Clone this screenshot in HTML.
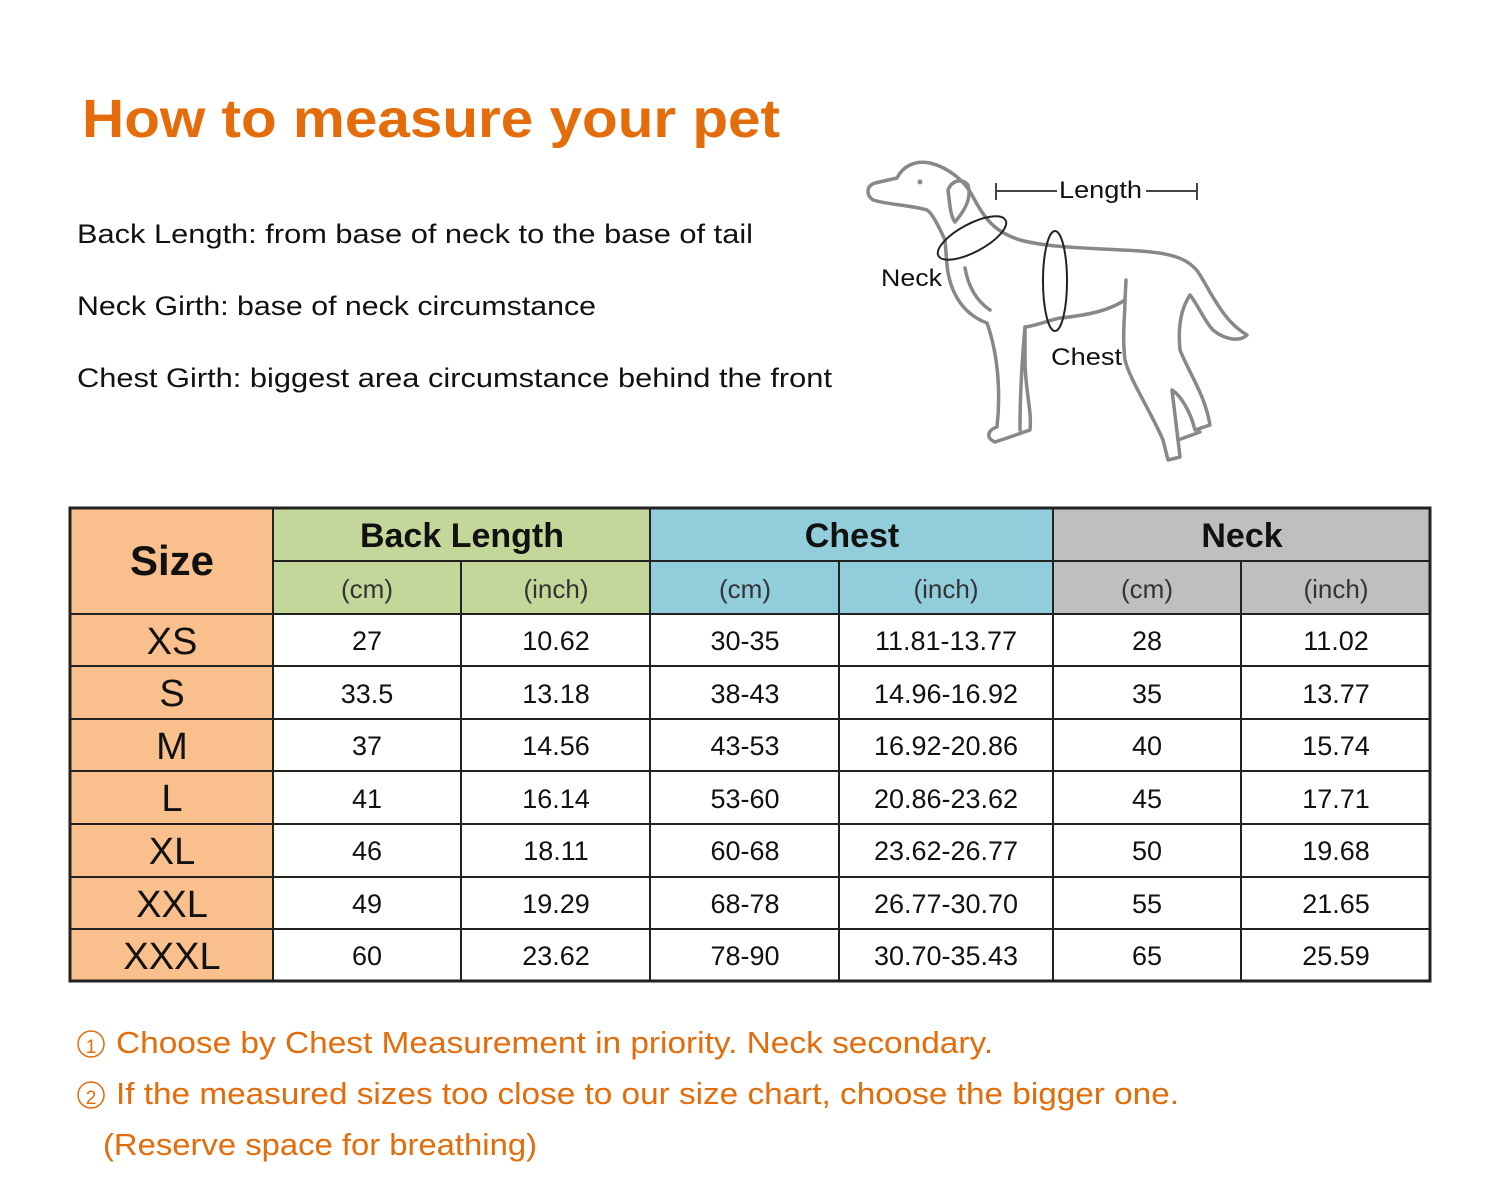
<!DOCTYPE html>
<html><head><meta charset="utf-8"><style>
body{margin:0;background:#fff;}
svg{display:block;}
text{font-family:"Liberation Sans",sans-serif;}
</style></head><body>
<svg width="1500" height="1200" viewBox="0 0 1500 1200" xmlns="http://www.w3.org/2000/svg">
<rect width="1500" height="1200" fill="#fff"/>
<text x="82" y="137" font-size="54" font-weight="bold" fill="#e46c0a" textLength="698" lengthAdjust="spacingAndGlyphs">How to measure your pet</text>
<g font-size="27" fill="#111">
<text x="77" y="243" textLength="676" lengthAdjust="spacingAndGlyphs">Back Length: from base of neck to the base of tail</text>
<text x="77" y="315" textLength="519" lengthAdjust="spacingAndGlyphs">Neck Girth: base of neck circumstance</text>
<text x="77" y="387" textLength="755" lengthAdjust="spacingAndGlyphs">Chest Girth: biggest area circumstance behind the front</text>
</g>
<!-- dog -->
<g fill="none" stroke="#888" stroke-width="3.5" stroke-linejoin="round" stroke-linecap="round">
<path d="M873 200 C866 195 866 186 875 183 L897 178 C903 166 915 160 930 163 C950 168 965 182 972 195 C985 220 995 232 1020 240 C1050 248 1090 248 1140 251 C1170 253 1190 258 1200 275 C1215 300 1225 322 1247 335 C1240 342 1225 340 1213 330 C1205 322 1198 305 1190 295 C1180 310 1178 330 1180 350 C1190 375 1205 395 1210 425 L1195 430 C1190 410 1180 395 1172 390 L1178 440 L1180 457 L1168 460 L1163 440 C1150 410 1130 380 1125 360 C1122 335 1125 315 1125 300 C1110 310 1090 315 1060 318 C1050 320 1035 326 1025 327 L1025 360 C1025 390 1032 410 1030 430 L1010 437 L995 442 C985 438 988 430 997 427 C1000 400 1000 360 987 323 C965 315 950 295 947 265 L945 240 C938 225 932 213 927 210 C910 205 890 205 873 200 Z"/>
<path d="M948 190 C950 205 950 215 955 222 C965 210 972 198 968 185 C962 178 952 180 948 190 Z"/>
<path d="M965 268 C968 285 975 300 990 310"/>
<path d="M1025 327 C1022 360 1020 400 1020 430"/>
<path d="M1125 300 L1126 280"/>
<path d="M1178 440 L1200 432"/>
</g>
<circle cx="920" cy="182" r="2.5" fill="#888"/>
<ellipse cx="972" cy="238" rx="38" ry="14" transform="rotate(-28 972 238)" fill="none" stroke="#222" stroke-width="2"/>
<ellipse cx="1055" cy="281" rx="12" ry="50" fill="none" stroke="#222" stroke-width="2"/>
<g stroke="#444" stroke-width="2">
<line x1="996" y1="191" x2="1057" y2="191"/><line x1="996" y1="183" x2="996" y2="200"/>
<line x1="1146" y1="191" x2="1197" y2="191"/><line x1="1197" y1="183" x2="1197" y2="200"/>
</g>
<g font-size="24" fill="#111">
<text x="1059" y="198" textLength="83" lengthAdjust="spacingAndGlyphs">Length</text>
<text x="881" y="286" textLength="61" lengthAdjust="spacingAndGlyphs">Neck</text>
<text x="1051" y="365" textLength="71" lengthAdjust="spacingAndGlyphs">Chest</text>
</g>
<!-- table -->
<rect x="70" y="508" width="203" height="473" fill="#f9c08e"/>
<rect x="273" y="508" width="377" height="106" fill="#c4d79b"/>
<rect x="650" y="508" width="403" height="106" fill="#92cddc"/>
<rect x="1053" y="508" width="377" height="106" fill="#bfbfbf"/>
<g stroke="#222" stroke-width="2">
<line x1="273" y1="561" x2="1430" y2="561"/>
<line x1="70" y1="614" x2="1430" y2="614"/>
<line x1="273" y1="666" x2="1430" y2="666"/>
<line x1="70" y1="719" x2="1430" y2="719"/>
<line x1="70" y1="771" x2="1430" y2="771"/>
<line x1="70" y1="824" x2="1430" y2="824"/>
<line x1="70" y1="877" x2="1430" y2="877"/>
<line x1="70" y1="929" x2="1430" y2="929"/>
<line x1="70" y1="666" x2="273" y2="666"/>
<line x1="273" y1="508" x2="273" y2="981"/>
<line x1="650" y1="508" x2="650" y2="981"/>
<line x1="1053" y1="508" x2="1053" y2="981"/>
<line x1="461" y1="561" x2="461" y2="981"/>
<line x1="839" y1="561" x2="839" y2="981"/>
<line x1="1241" y1="561" x2="1241" y2="981"/>
</g>
<rect x="70" y="508" width="1360" height="473" fill="none" stroke="#222" stroke-width="3"/>
<g text-anchor="middle" fill="#111">
<text x="172" y="575" font-size="42" font-weight="bold">Size</text>
<g font-size="34" font-weight="bold">
<text x="462" y="547">Back Length</text>
<text x="852" y="547">Chest</text>
<text x="1242" y="547">Neck</text>
</g>
<g font-size="26" fill="#333">
<text x="367" y="598">(cm)</text><text x="556" y="598">(inch)</text>
<text x="745" y="598">(cm)</text><text x="946" y="598">(inch)</text>
<text x="1147" y="598">(cm)</text><text x="1336" y="598">(inch)</text>
</g>
<g font-size="38">
<text x="172" y="654">XS</text><text x="172" y="706">S</text><text x="172" y="759">M</text>
<text x="172" y="811">L</text><text x="172" y="864">XL</text><text x="172" y="917">XXL</text><text x="172" y="969">XXXL</text>
</g>
<g font-size="27">
<text x="367" y="650">27</text><text x="556" y="650">10.62</text><text x="745" y="650">30-35</text><text x="946" y="650">11.81-13.77</text><text x="1147" y="650">28</text><text x="1336" y="650">11.02</text>
<text x="367" y="703">33.5</text><text x="556" y="703">13.18</text><text x="745" y="703">38-43</text><text x="946" y="703">14.96-16.92</text><text x="1147" y="703">35</text><text x="1336" y="703">13.77</text>
<text x="367" y="755">37</text><text x="556" y="755">14.56</text><text x="745" y="755">43-53</text><text x="946" y="755">16.92-20.86</text><text x="1147" y="755">40</text><text x="1336" y="755">15.74</text>
<text x="367" y="808">41</text><text x="556" y="808">16.14</text><text x="745" y="808">53-60</text><text x="946" y="808">20.86-23.62</text><text x="1147" y="808">45</text><text x="1336" y="808">17.71</text>
<text x="367" y="860">46</text><text x="556" y="860">18.11</text><text x="745" y="860">60-68</text><text x="946" y="860">23.62-26.77</text><text x="1147" y="860">50</text><text x="1336" y="860">19.68</text>
<text x="367" y="913">49</text><text x="556" y="913">19.29</text><text x="745" y="913">68-78</text><text x="946" y="913">26.77-30.70</text><text x="1147" y="913">55</text><text x="1336" y="913">21.65</text>
<text x="367" y="965">60</text><text x="556" y="965">23.62</text><text x="745" y="965">78-90</text><text x="946" y="965">30.70-35.43</text><text x="1147" y="965">65</text><text x="1336" y="965">25.59</text>
</g>
</g>
<g font-size="31" fill="#e46c0a">
<circle cx="91" cy="1044" r="13" fill="none" stroke="#e46c0a" stroke-width="1.5"/>
<text x="91" y="1053" font-size="19" text-anchor="middle">1</text>
<text x="116" y="1053" textLength="877" lengthAdjust="spacingAndGlyphs">Choose by Chest Measurement in priority. Neck secondary.</text>
<circle cx="91" cy="1095" r="13" fill="none" stroke="#e46c0a" stroke-width="1.5"/>
<text x="91" y="1104" font-size="19" text-anchor="middle">2</text>
<text x="116" y="1104" textLength="1063" lengthAdjust="spacingAndGlyphs">If the measured sizes too close to our size chart, choose the bigger one.</text>
<text x="103" y="1155" textLength="434" lengthAdjust="spacingAndGlyphs">(Reserve space for breathing)</text>
</g>
</svg>
</body></html>
